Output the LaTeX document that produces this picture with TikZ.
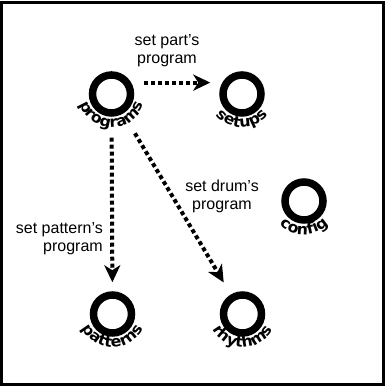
\documentclass[tikz,border=0pt]{standalone}
\usepackage{fontspec}
\setmainfont{Liberation Sans}
\newfontfamily\ringfont{DejaVu Sans}[FakeStretch=1.05]
\usepackage{tikz}
\usetikzlibrary{arrows.meta, positioning, decorations.text}
\newcommand{\ringface}{\fontsize{15}{17}\selectfont\ringfont\bfseries}
\tikzstyle{ring} = [circle, draw=black, line width=7.5pt, minimum size=38pt, inner sep=0pt]
\tikzstyle{ringtext} = [decorate, decoration={text along path, text align=center}]
\tikzstyle{note} = [inner sep=0pt, align=center, font=\fontsize{16}{18}\selectfont]
\tikzstyle{link} = [line width=4pt, dash pattern=on 4pt off 3pt, -{Stealth[length=17pt, width=16pt, inset=5pt]}]

\begin{document}
\begin{tikzpicture}[x=1pt, y=1pt]
		\useasboundingbox (0,0) rectangle (385,387);
		\draw [line width=3pt] (1.5,2.5) rectangle (383,384);
		
		\node (programs) [ring] at (111.5,293) {};
		\node (setups) [ring, right of=programs, node distance=130.5pt] {};
		\node (patterns) [ring, below of=programs, node distance=220pt, xshift=1pt] {};
		\node (rhythms) [ring, right of=patterns, node distance=130pt] {};
		\node (config) [ring] at (304,186) {};
		
		\path [ringtext, decoration={text={|\ringface|programs}}] (programs.center) ++(175:33.5) arc [start angle=175, end angle=365, radius=33.5];
		\path [ringtext, decoration={text={|\ringface|setups}}] (setups.center) ++(175:33.5) arc [start angle=175, end angle=365, radius=33.5];
		\path [ringtext, decoration={text={|\ringface|patterns}}] (patterns.center) ++(175:33.5) arc [start angle=175, end angle=365, radius=33.5];
		\path [ringtext, decoration={text={|\ringface|rhythms}}] (rhythms.center) ++(175:33.5) arc [start angle=175, end angle=365, radius=33.5];
		\path [ringtext, decoration={text={|\ringface|config}}] (config.center) ++(175:33.5) arc [start angle=175, end angle=365, radius=33.5];
		
		\node (partnote) [note] at (167,336) {set part's\\program};
		\node (patternnote) [note, align=right, anchor=east] at (103,148.5) {set pattern's\\program};
		\node (drumnote) [note] at (222,191) {set drum's\\program};
		
		\draw [link, shorten <=13pt, shorten >=12pt] (programs.30) -- (setups.150);
		\draw [link, shorten <=21pt, shorten >=9pt] (programs) -- (patterns);
		\draw [link, shorten <=23pt, shorten >=14pt] (programs) -- (rhythms);
		
	\end{tikzpicture}
\end{document}
